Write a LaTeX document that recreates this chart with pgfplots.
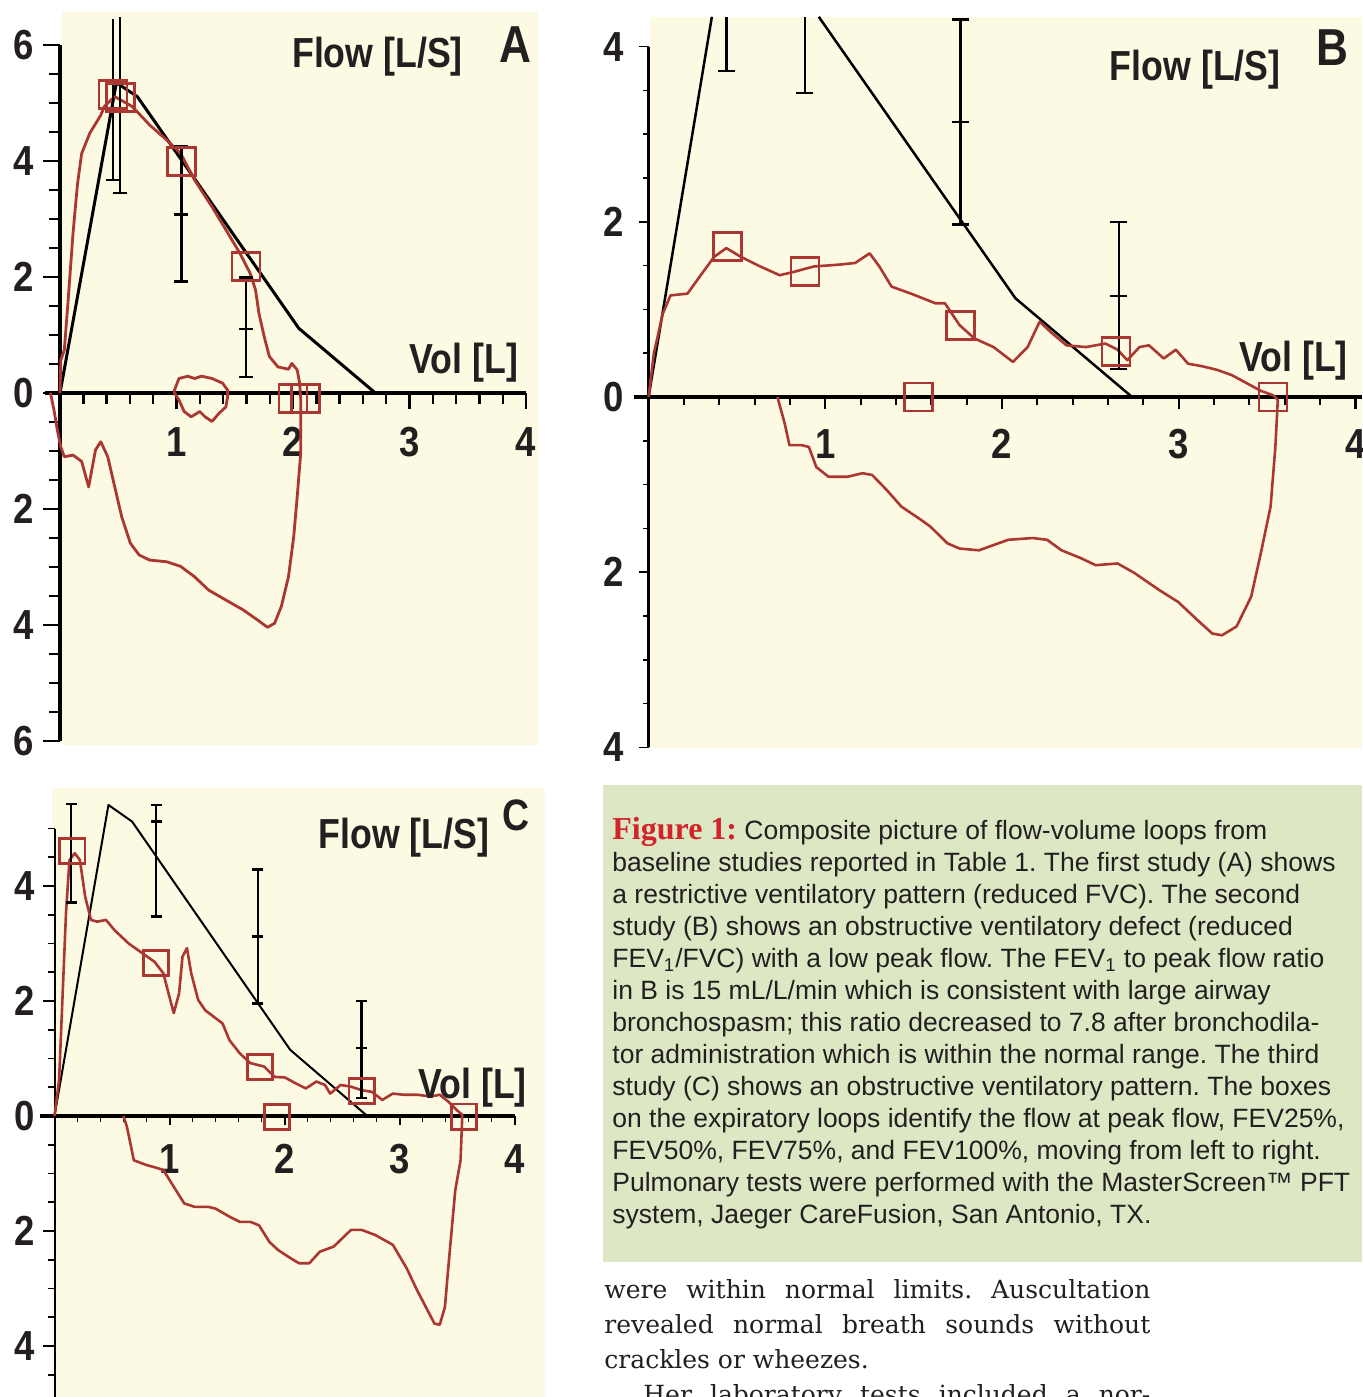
\documentclass[border=0pt]{standalone}
\usepackage{fontspec}
\usepackage{pgfplots}
\pgfplotsset{compat=1.18}
\setmainfont{Liberation Sans}
\newfontfamily\lblfont[FakeStretch=0.85]{Liberation Sans}
\newfontfamily\tickfont[FakeStretch=0.87]{Liberation Sans}
\newfontfamily\capfont{Liberation Sans}
\newfontfamily\figfont{Liberation Serif}
\newfontfamily\bodyfont{DejaVu Serif}
\definecolor{bgyellow}{RGB}{252,250,227}
\definecolor{capgreen}{RGB}{220,232,196}
\definecolor{loopred}{RGB}{170,55,50}
\definecolor{figred}{RGB}{210,35,42}
\definecolor{txt}{RGB}{35,31,32}
\newcommand{\tk}{\tickfont\bfseries\fontsize{21}{22}\selectfont}
\newcommand{\lb}{\lblfont\bfseries\fontsize{21}{22}\selectfont}
\newcommand{\pl}{\lblfont\bfseries\fontsize{26}{27}\selectfont}
\newcommand{\plc}{\lblfont\bfseries\fontsize{22}{23}\selectfont}
\newcommand{\cf}{\capfont\fontsize{13.25}{16}\selectfont\frenchspacing}
\newcommand{\bodyf}{\bodyfont\fontsize{12.5}{17.5}\selectfont\frenchspacing}
\pgfplotsset{
 rloop/.style={color=loopred, line width=1.4pt, line join=round, mark=none},
 predline/.style={black, line width=1.5pt, line join=round, mark=none},
 ebar/.style={black, line width=1.2pt, mark=-, mark size=3.5pt, mark options={line width=1.2pt}},
 sqbox/.style={only marks, color=loopred, mark=square, mark size=7pt, mark options={draw=loopred, line width=1.4pt, fill=none}},
}
\begin{document}
\frenchspacing
\begin{tikzpicture}
\fill[white] (0,0) rectangle (681pt,-698.5pt);
\fill[bgyellow] (31pt,-6pt) rectangle (269pt,-372.5pt);
\fill[bgyellow] (325pt,-8.5pt) rectangle (681pt,-374pt);
\fill[bgyellow] (26pt,-394pt) rectangle (272.5pt,-698.5pt);
\fill[capgreen] (301.5pt,-392.5pt) rectangle (681pt,-631pt);

% ---------------- Panel A ----------------
\begin{axis}[at={(30pt,-196.5pt)}, anchor=origin, x=58.25pt, y=29pt,
  xmin=-0.15, xmax=4.1, ymin=-6.1, ymax=6.6, hide axis, clip=false]
\draw[line width=2pt] (axis cs:-0.13,0) -- (axis cs:4,0);
\draw[line width=1.75pt] (axis cs:0,-6) -- (axis cs:0,6);
\pgfplotsinvokeforeach{1,2,3,4}{\draw[line width=1.2pt] (axis cs:#1,0) -- ++(0pt,-8pt);}
\pgfplotsinvokeforeach{0.2,0.4,0.6,0.8,1.2,1.4,1.6,1.8,2.2,2.4,2.6,2.8,3.2,3.4,3.6,3.8}{\draw[line width=1.2pt] (axis cs:#1,0) -- ++(0pt,-5.3pt);}
\pgfplotsinvokeforeach{-6,-4,-2,0,2,4,6}{\draw[line width=1.2pt] (axis cs:0,#1) -- ++(-8.5pt,0pt);}
\pgfplotsinvokeforeach{-5.5,-5,-4.5,-3.5,-3,-2.5,-1.5,-1,-0.5,0.5,1,1.5,2.5,3,3.5,4.5,5,5.5}{\draw[line width=1pt] (axis cs:0,#1) -- ++(-5.3pt,0pt);}
\pgfplotsinvokeforeach{6,4,2,0}{\node[anchor=east, inner sep=0pt, xshift=-13pt, font=\tk, text=txt] at (axis cs:0,#1) {#1};}
\pgfplotsinvokeforeach{2,4,6}{\node[anchor=east, inner sep=0pt, xshift=-13pt, font=\tk, text=txt] at (axis cs:0,-#1) {#1};}
\pgfplotsinvokeforeach{1,2,3,4}{\node[anchor=north, inner sep=0pt, yshift=-17pt, font=\tk, text=txt] at (axis cs:#1,0) {#1};}
\addplot[predline] coordinates {(0,0) (0.484,5.35) (0.664,5.11) (2.05,1.115) (2.707,0)};
\addplot[rloop] coordinates {(0,0) (0.007,0.57) (0.037,0.74) (0.07,1.6) (0.112,2.76) (0.15,3.6) (0.186,4.13) (0.256,4.48) (0.35,4.79) (0.38,4.94) (0.47,5.11) (0.62,4.94) (0.77,4.62) (0.917,4.36) (1.036,4.13) (1.156,3.67) (1.305,3.21) (1.425,2.81) (1.544,2.41) (1.633,2.06) (1.678,1.78) (1.708,1.37) (1.753,0.97) (1.797,0.63) (1.871,0.45) (1.961,0.41) (1.99,0.51) (2.036,0.40) (2.057,0.17) (2.066,-0.09)
 (2.066,-1.04) (2.036,-1.79) (2.006,-2.48) (1.961,-3.17) (1.90,-3.68) (1.842,-3.97) (1.782,-4.04) (1.693,-3.91) (1.573,-3.74) (1.424,-3.57) (1.277,-3.40) (1.156,-3.17) (1.036,-2.99) (0.917,-2.91) (0.768,-2.88) (0.678,-2.79) (0.604,-2.59) (0.529,-2.13) (0.47,-1.62) (0.41,-1.10) (0.35,-0.84) (0.305,-0.98) (0.246,-1.62) (0.186,-1.18) (0.112,-1.07) (0.037,-1.10) (0.007,-0.93) (-0.023,-0.64) (-0.052,-0.29) (-0.082,0)};
\addplot[rloop] coordinates {(0.977,0.02) (1.021,0.25) (1.096,0.29) (1.156,0.25) (1.215,0.29) (1.305,0.25) (1.395,0.17) (1.439,0.05) (1.439,-0.06) (1.424,-0.24) (1.365,-0.35) (1.305,-0.49) (1.245,-0.41) (1.20,-0.32) (1.126,-0.41) (1.066,-0.32) (1.021,-0.12) (0.977,0.02)};
\addplot[ebar, mark indices={1}] coordinates {(0.455,3.67) (0.455,6.45)};
\addplot[ebar, mark indices={1}] coordinates {(0.514,3.45) (0.514,6.49)};
\addplot[ebar] coordinates {(1.042,1.92) (1.042,3.08) (1.042,4.26)};
\addplot[ebar] coordinates {(1.597,0.28) (1.597,1.10) (1.597,1.99)};
\addplot[sqbox] coordinates {(0.455,5.15) (0.52,5.10) (1.042,3.99) (1.597,2.18) (2.0,-0.09) (2.11,-0.09)};
\end{axis}

% ---------------- Panel B ----------------
\begin{axis}[at={(324.3pt,-198.5pt)}, anchor=origin, x=88.35pt, y=43.8pt,
  xmin=-0.1, xmax=4.04, ymin=-4.05, ymax=4.34, hide axis, clip=false]
\draw[line width=2pt] (axis cs:-0.08,0) -- (axis cs:4.04,0);
\draw[line width=1.3pt] (axis cs:0,-4) -- (axis cs:0,4);
\pgfplotsinvokeforeach{1,2,3,4}{\draw[line width=1.1pt] (axis cs:#1,0) -- ++(0pt,-5.8pt);}
\pgfplotsinvokeforeach{0.2,0.4,0.6,0.8,1.2,1.4,1.6,1.8,2.2,2.4,2.6,2.8,3.2,3.4,3.6,3.8}{\draw[line width=1.1pt] (axis cs:#1,0) -- ++(0pt,-4pt);}
\pgfplotsinvokeforeach{-4,-2,0,2,4}{\draw[line width=0.9pt] (axis cs:0,#1) -- ++(-5pt,0pt);}
\pgfplotsinvokeforeach{-3.5,-3,-2.5,-1.5,-1,-0.5,0.5,1,1.5,2.5,3,3.5}{\draw[line width=0.8pt] (axis cs:0,#1) -- ++(-3pt,0pt);}
\pgfplotsinvokeforeach{4,2,0}{\node[anchor=east, inner sep=0pt, xshift=-12.3pt, font=\tk, text=txt] at (axis cs:0,#1) {#1};}
\pgfplotsinvokeforeach{2,4}{\node[anchor=east, inner sep=0pt, xshift=-12.3pt, font=\tk, text=txt] at (axis cs:0,-#1) {#1};}
\pgfplotsinvokeforeach{1,2,3,4}{\node[anchor=north, inner sep=0pt, yshift=-16pt, font=\tk, text=txt] at (axis cs:#1,0) {#1};}
\addplot[predline, line width=1.25pt] coordinates {(0,0) (0.358,4.34)};
\addplot[predline, line width=1.25pt] coordinates {(0.963,4.34) (2.076,1.127) (2.736,0)};
\addplot[rloop, line width=1.3pt] coordinates {(0,0) (0.03,0.5) (0.08,0.95) (0.124,1.16) (0.22,1.18) (0.302,1.41) (0.371,1.60) (0.44,1.70) (0.522,1.60) (0.632,1.49) (0.742,1.39) (0.825,1.43) (0.935,1.49) (1.072,1.51) (1.169,1.53) (1.251,1.64) (1.306,1.49) (1.375,1.26) (1.485,1.18) (1.623,1.07) (1.677,1.07) (1.76,0.82) (1.843,0.67) (1.952,0.57) (2.062,0.40) (2.145,0.57) (2.213,0.86) (2.282,0.73) (2.365,0.59) (2.475,0.57) (2.585,0.61) (2.654,0.54) (2.709,0.42) (2.778,0.57) (2.832,0.59) (2.915,0.44) (2.984,0.54) (3.053,0.38) (3.135,0.35) (3.217,0.31) (3.30,0.25) (3.383,0.16) (3.465,0.07) (3.534,0.02) (3.561,-0.03)
 (3.547,-0.57) (3.52,-1.25) (3.465,-1.78) (3.41,-2.28) (3.327,-2.62) (3.245,-2.72) (3.19,-2.70) (3.108,-2.55) (2.997,-2.34) (2.887,-2.20) (2.75,-2.01) (2.654,-1.90) (2.53,-1.92) (2.447,-1.84) (2.337,-1.75) (2.255,-1.63) (2.173,-1.61) (2.035,-1.63) (1.952,-1.69) (1.87,-1.75) (1.76,-1.73) (1.691,-1.67) (1.595,-1.48) (1.54,-1.40) (1.43,-1.25) (1.347,-1.06) (1.265,-0.89) (1.21,-0.87) (1.127,-0.91) (1.018,-0.91) (0.949,-0.80) (0.907,-0.57) (0.866,-0.55) (0.797,-0.55) (0.77,-0.30) (0.729,0)};
\addplot[ebar, mark size=4.25pt, mark indices={1}] coordinates {(0.44,3.72) (0.44,4.34)};
\addplot[ebar, mark size=4.25pt, mark indices={1}] coordinates {(0.885,3.47) (0.885,4.34)};
\addplot[ebar, mark size=4.25pt] coordinates {(1.765,1.97) (1.765,3.14) (1.765,4.31)};
\addplot[ebar, mark size=4.25pt] coordinates {(2.662,0.32) (2.662,1.15) (2.662,2.0)};
\addplot[sqbox] coordinates {(0.445,1.72) (0.885,1.43) (1.765,0.82) (2.645,0.52) (3.534,0.0) (1.526,0.0)};
\end{axis}

% ---------------- Panel C ----------------
\begin{axis}[at={(27.25pt,-558pt)}, anchor=origin, x=57.5pt, y=28.75pt,
  xmin=-0.15, xmax=4.05, ymin=-5, ymax=5.5, hide axis, clip=false]
\draw[line width=1.75pt] (axis cs:-0.126,0) -- (axis cs:4,0);
\draw[line width=1pt] (axis cs:0,-5) -- (axis cs:0,5);
\pgfplotsinvokeforeach{1,2,3,4}{\draw[line width=1pt] (axis cs:#1,0) -- ++(0pt,-4.5pt);}
\pgfplotsinvokeforeach{0.2,0.4,0.6,0.8,1.2,1.4,1.6,1.8,2.2,2.4,2.6,2.8,3.2,3.4,3.6,3.8}{\draw[line width=0.9pt] (axis cs:#1,0) -- ++(0pt,-3pt);}
\pgfplotsinvokeforeach{-4,-2,0,2,4}{\draw[line width=0.9pt] (axis cs:0,#1) -- ++(-6pt,0pt);}
\pgfplotsinvokeforeach{-4.5,-3.5,-3,-2.5,-1.5,-1,-0.5,0.5,1,1.5,2.5,3,3.5,4.5,5}{\draw[line width=0.8pt] (axis cs:0,#1) -- ++(-3.5pt,0pt);}
\pgfplotsinvokeforeach{4,2,0}{\node[anchor=east, inner sep=0pt, xshift=-9.5pt, font=\tk, text=txt] at (axis cs:0,#1) {#1};}
\pgfplotsinvokeforeach{2,4}{\node[anchor=east, inner sep=0pt, xshift=-9.5pt, font=\tk, text=txt] at (axis cs:0,-#1) {#1};}
\pgfplotsinvokeforeach{1,2,3,4}{\node[anchor=north, inner sep=0pt, yshift=-14pt, font=\tk, text=txt] at (axis cs:#1,0) {#1};}
\addplot[predline, line width=1pt] coordinates {(0,0) (0.469,5.41) (0.675,5.12) (2.05,1.15) (2.72,0)};
\addplot[rloop, line width=1.3pt] coordinates {(0,0) (0.04,0.63) (0.10,3.53) (0.13,4.45) (0.176,4.57) (0.221,4.45) (0.267,3.81) (0.318,3.41) (0.372,3.38) (0.448,3.41) (0.523,3.23) (0.645,3.0) (0.765,2.83) (0.871,2.68) (0.947,2.48) (0.992,2.13) (1.037,1.79) (1.083,2.13) (1.113,2.77) (1.152,2.92) (1.189,2.48) (1.249,2.02) (1.31,1.84) (1.461,1.61) (1.521,1.32) (1.611,1.09) (1.703,0.92) (1.823,0.86) (1.914,0.68) (2.004,0.67) (2.095,0.57) (2.186,0.48) (2.277,0.60) (2.352,0.54) (2.397,0.39) (2.488,0.54) (2.579,0.51) (2.67,0.45) (2.76,0.42) (2.85,0.28) (2.942,0.39) (3.032,0.37) (3.153,0.37) (3.274,0.34) (3.35,0.37) (3.425,0.25) (3.50,0.10) (3.546,0.02)
 (3.531,-0.77) (3.485,-1.29) (3.456,-1.93) (3.425,-2.62) (3.395,-3.32) (3.35,-3.63) (3.304,-3.61) (3.213,-3.26) (3.153,-3.03) (3.063,-2.65) (2.942,-2.24) (2.79,-2.07) (2.67,-1.98) (2.579,-1.98) (2.428,-2.27) (2.307,-2.36) (2.216,-2.56) (2.125,-2.56) (2.035,-2.45) (1.944,-2.33) (1.869,-2.19) (1.778,-1.90) (1.703,-1.84) (1.611,-1.84) (1.521,-1.75) (1.40,-1.61) (1.339,-1.58) (1.218,-1.58) (1.128,-1.52) (1.037,-1.23) (0.947,-0.94) (0.886,-0.90) (0.796,-0.85) (0.69,-0.77) (0.659,-0.47) (0.63,-0.19) (0.599,0)};
\addplot[ebar, line width=1pt, mark size=2.75pt] coordinates {(0.146,3.71) (0.146,5.43)};
\addplot[ebar, line width=1pt, mark size=2.75pt] coordinates {(0.886,3.47) (0.886,5.12) (0.886,5.41)};
\addplot[ebar, line width=1pt, mark size=2.75pt] coordinates {(1.769,1.96) (1.769,3.12) (1.769,4.29)};
\addplot[ebar, line width=1.2pt, mark size=2.75pt] coordinates {(2.67,0.31) (2.67,1.18) (2.67,2.0)};
\addplot[sqbox, mark size=6.3pt] coordinates {(0.155,4.61) (0.88,2.66) (1.787,0.85) (2.67,0.44) (3.561,-0.01) (1.935,-0.02)};
\end{axis}

% ---------------- panel labels ----------------
\node[anchor=base, inner sep=0pt, font=\lb, text=txt] at (188.75pt,-33.5pt) {Flow [L/S]};
\node[anchor=base, inner sep=0pt, font=\pl, text=txt] at (257.5pt,-31pt) {A};
\node[anchor=base, inner sep=0pt, font=\lb, text=txt] at (232pt,-186.5pt) {Vol [L]};
\node[anchor=base, inner sep=0pt, font=\lb, text=txt] at (597.6pt,-40pt) {Flow [L/S]};
\node[anchor=base, inner sep=0pt, font=\pl, text=txt] at (666.3pt,-32.5pt) {B};
\node[anchor=base, inner sep=0pt, font=\lb, text=txt] at (646.8pt,-185.8pt) {Vol [L]};
\node[anchor=base, inner sep=0pt, font=\lb, text=txt] at (202pt,-424pt) {Flow [L/S]};
\node[anchor=base, inner sep=0pt, font=\plc, text=txt] at (258pt,-415pt) {C};
\node[anchor=base, inner sep=0pt, font=\lb, text=txt] at (236.3pt,-549pt) {Vol [L]};

% ---------------- caption ----------------
\node[anchor=base west, inner sep=0pt, font=\cf, text=txt] at (306pt,-419.8pt) {{\figfont\bfseries\fontsize{16}{16}\selectfont\color{figred}Figure 1:} Composite picture of flow-volume loops from};
\node[anchor=base west, inner sep=0pt, font=\cf, text=txt] at (306pt,-435.8pt) {baseline studies reported in Table 1. The first study (A) shows};
\node[anchor=base west, inner sep=0pt, font=\cf, text=txt] at (306pt,-451.8pt) {a restrictive ventilatory pattern (reduced FVC). The second};
\node[anchor=base west, inner sep=0pt, font=\cf, text=txt] at (306pt,-467.8pt) {study (B) shows an obstructive ventilatory defect (reduced};
\node[anchor=base west, inner sep=0pt, font=\cf, text=txt] at (306pt,-483.8pt) {FEV\textsubscript{1}/FVC) with a low peak flow. The FEV\textsubscript{1} to peak flow ratio};
\node[anchor=base west, inner sep=0pt, font=\cf, text=txt] at (306pt,-499.8pt) {in B is 15 mL/L/min which is consistent with large airway};
\node[anchor=base west, inner sep=0pt, font=\cf, text=txt] at (306pt,-515.8pt) {bronchospasm; this ratio decreased to 7.8 after bronchodila-};
\node[anchor=base west, inner sep=0pt, font=\cf, text=txt] at (306pt,-531.8pt) {tor administration which is within the normal range. The third};
\node[anchor=base west, inner sep=0pt, font=\cf, text=txt] at (306pt,-547.8pt) {study (C) shows an obstructive ventilatory pattern. The boxes};
\node[anchor=base west, inner sep=0pt, font=\cf, text=txt] at (306pt,-563.8pt) {on the expiratory loops identify the flow at peak flow, FEV25\%,};
\node[anchor=base west, inner sep=0pt, font=\cf, text=txt] at (306pt,-579.8pt) {FEV50\%, FEV75\%, and FEV100\%, moving from left to right.};
\node[anchor=base west, inner sep=0pt, font=\cf, text=txt] at (306pt,-595.8pt) {Pulmonary tests were performed with the MasterScreen™ PFT};
\node[anchor=base west, inner sep=0pt, font=\cf, text=txt] at (306pt,-611.8pt) {system, Jaeger CareFusion, San Antonio, TX.};

% ---------------- body text ----------------
\node[anchor=base west, inner sep=0pt, font=\bodyf, text=txt] at (302pt,-649.3pt) {\makebox[273pt][s]{were within normal limits. Auscultation}};
\node[anchor=base west, inner sep=0pt, font=\bodyf, text=txt] at (302pt,-666.8pt) {\makebox[273pt][s]{revealed normal breath sounds without}};
\node[anchor=base west, inner sep=0pt, font=\bodyf, text=txt] at (302pt,-684.3pt) {crackles or wheezes.};
\node[anchor=base west, inner sep=0pt, font=\bodyf, text=txt] at (321.5pt,-701.8pt) {\makebox[253.5pt][s]{Her laboratory tests included a nor-}};

\pgfresetboundingbox
\path[use as bounding box] (0pt,0pt) rectangle (681pt,-698.5pt);
\end{tikzpicture}
\end{document}
